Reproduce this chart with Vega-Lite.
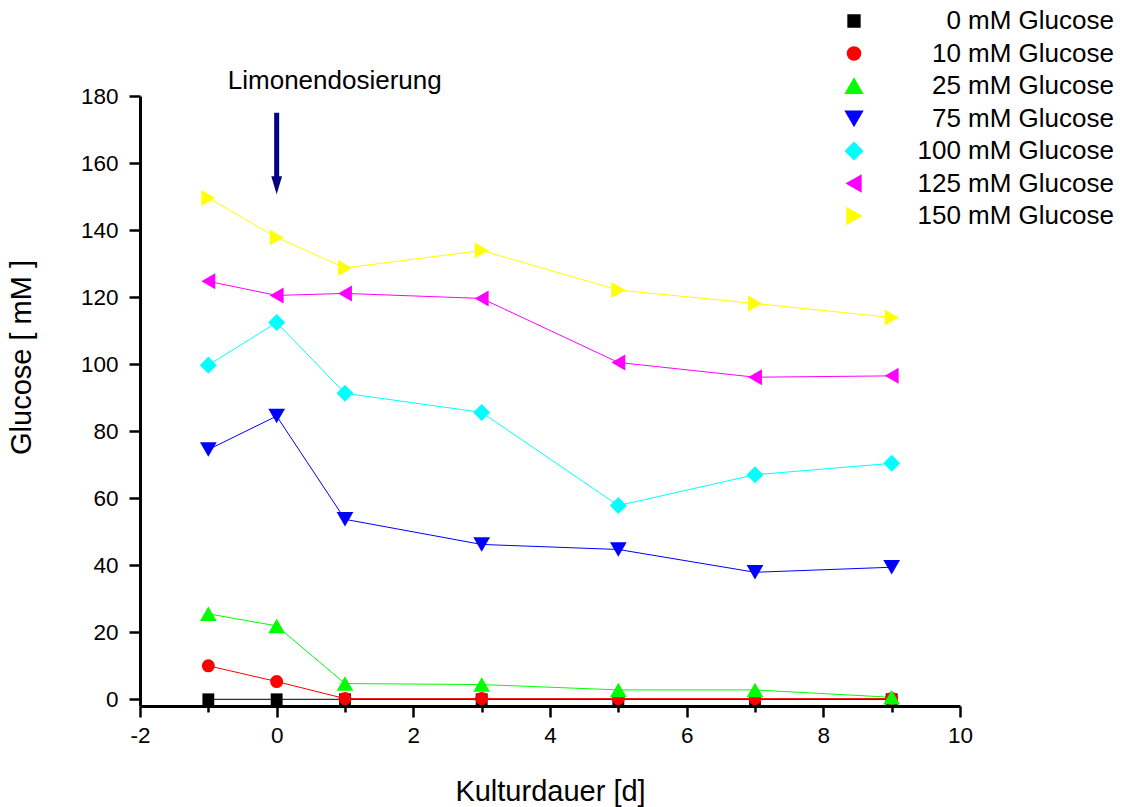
{
  "$schema": "https://vega.github.io/schema/vega-lite/v6.json",
  "width": 820,
  "height": 610,
  "autosize": {"type": "none"},
  "padding": {"left": 140, "top": 96, "right": 162, "bottom": 101},
  "background": "white",
  "config": {
    "font": "Liberation Sans",
    "view": {"stroke": null}
  },
  "datasets": {
    "glucose": [
      {"series": "0 mM Glucose", "day": -1, "glucose": 0},
      {"series": "0 mM Glucose", "day": 0, "glucose": 0},
      {"series": "0 mM Glucose", "day": 1, "glucose": 0},
      {"series": "0 mM Glucose", "day": 3, "glucose": 0},
      {"series": "0 mM Glucose", "day": 5, "glucose": 0},
      {"series": "0 mM Glucose", "day": 7, "glucose": 0},
      {"series": "0 mM Glucose", "day": 9, "glucose": 0},
      {"series": "10 mM Glucose", "day": -1, "glucose": 10.0},
      {"series": "10 mM Glucose", "day": 0, "glucose": 5.3},
      {"series": "10 mM Glucose", "day": 1, "glucose": 0.2},
      {"series": "10 mM Glucose", "day": 3, "glucose": 0.2},
      {"series": "10 mM Glucose", "day": 5, "glucose": 0.2},
      {"series": "10 mM Glucose", "day": 7, "glucose": 0.2},
      {"series": "10 mM Glucose", "day": 9, "glucose": 0.2},
      {"series": "25 mM Glucose", "day": -1, "glucose": 25.5},
      {"series": "25 mM Glucose", "day": 0, "glucose": 21.9},
      {"series": "25 mM Glucose", "day": 1, "glucose": 4.7},
      {"series": "25 mM Glucose", "day": 3, "glucose": 4.4},
      {"series": "25 mM Glucose", "day": 5, "glucose": 2.8},
      {"series": "25 mM Glucose", "day": 7, "glucose": 2.8},
      {"series": "25 mM Glucose", "day": 9, "glucose": 0.6},
      {"series": "75 mM Glucose", "day": -1, "glucose": 74.5},
      {"series": "75 mM Glucose", "day": 0, "glucose": 84.5},
      {"series": "75 mM Glucose", "day": 1, "glucose": 53.7},
      {"series": "75 mM Glucose", "day": 3, "glucose": 46.2},
      {"series": "75 mM Glucose", "day": 5, "glucose": 44.7},
      {"series": "75 mM Glucose", "day": 7, "glucose": 37.9},
      {"series": "75 mM Glucose", "day": 9, "glucose": 39.4},
      {"series": "100 mM Glucose", "day": -1, "glucose": 99.7},
      {"series": "100 mM Glucose", "day": 0, "glucose": 112.4},
      {"series": "100 mM Glucose", "day": 1, "glucose": 91.3},
      {"series": "100 mM Glucose", "day": 3, "glucose": 85.6},
      {"series": "100 mM Glucose", "day": 5, "glucose": 57.8},
      {"series": "100 mM Glucose", "day": 7, "glucose": 67.0},
      {"series": "100 mM Glucose", "day": 9, "glucose": 70.4},
      {"series": "125 mM Glucose", "day": -1, "glucose": 124.7},
      {"series": "125 mM Glucose", "day": 0, "glucose": 120.5},
      {"series": "125 mM Glucose", "day": 1, "glucose": 121.1},
      {"series": "125 mM Glucose", "day": 3, "glucose": 119.6},
      {"series": "125 mM Glucose", "day": 5, "glucose": 100.5},
      {"series": "125 mM Glucose", "day": 7, "glucose": 96.1},
      {"series": "125 mM Glucose", "day": 9, "glucose": 96.5},
      {"series": "150 mM Glucose", "day": -1, "glucose": 149.6},
      {"series": "150 mM Glucose", "day": 0, "glucose": 137.8},
      {"series": "150 mM Glucose", "day": 1, "glucose": 128.7},
      {"series": "150 mM Glucose", "day": 3, "glucose": 133.9},
      {"series": "150 mM Glucose", "day": 5, "glucose": 122.1},
      {"series": "150 mM Glucose", "day": 7, "glucose": 118.1},
      {"series": "150 mM Glucose", "day": 9, "glucose": 113.9}
    ]
  },
  "data": {"name": "glucose"},
  "layer": [
    {
      "mark": {"type": "line", "strokeWidth": 1},
      "encoding": {
        "x": {
          "field": "day",
          "type": "quantitative",
          "title": "Kulturdauer [d]",
          "scale": {"domain": [-2, 10], "nice": false, "zero": false},
          "axis": {
            "values": [-2, -1, 0, 1, 2, 3, 4, 5, 6, 7, 8, 9, 10],
            "labelExpr": "datum.value % 2 === 0 ? '' + datum.value : ''",
            "tickSize": {"condition": {"test": "datum.value % 2 !== 0", "value": 6}, "value": 11},
            "grid": false,
            "domainColor": "black",
            "domainWidth": 3,
            "tickColor": "black",
            "tickWidth": 2.5,
            "labelFont": "Liberation Sans",
            "labelFontSize": 22.5,
            "labelColor": "black",
            "labelPadding": 7,
            "labelOverlap": false,
            "labelFlush": false,
            "titleFont": "Liberation Sans",
            "titleFontSize": 29,
            "titleFontWeight": "normal",
            "titleColor": "black",
            "titlePadding": 31
          }
        },
        "y": {
          "field": "glucose",
          "type": "quantitative",
          "title": "Glucose [ mM ]",
          "scale": {"domain": [-2, 180], "nice": false, "zero": false},
          "axis": {
            "values": [0, 10, 20, 30, 40, 50, 60, 70, 80, 90, 100, 110, 120, 130, 140, 150, 160, 170, 180],
            "labelExpr": "datum.value % 20 === 0 ? '' + datum.value : ''",
            "tickSize": {"condition": {"test": "datum.value % 20 !== 0", "value": 6}, "value": 11},
            "grid": false,
            "domainColor": "black",
            "domainWidth": 3,
            "tickColor": "black",
            "tickWidth": 2.5,
            "labelFont": "Liberation Sans",
            "labelFontSize": 22.5,
            "labelColor": "black",
            "labelPadding": 11,
            "labelOverlap": false,
            "labelFlush": false,
            "titleFont": "Liberation Sans",
            "titleFontSize": 29,
            "titleFontWeight": "normal",
            "titleColor": "black",
            "titlePadding": 44,
            "titleY": 261
          }
        },
        "color": {
          "field": "series",
          "type": "nominal",
          "scale": {
            "domain": ["0 mM Glucose", "10 mM Glucose", "25 mM Glucose", "75 mM Glucose", "100 mM Glucose", "125 mM Glucose", "150 mM Glucose"],
            "range": ["#000000", "#ff0000", "#00ff00", "#0000ff", "#00ffff", "#ff00ff", "#ffff00"]
          },
          "legend": {
            "orient": "none", "legendX": 701, "legendY": -88, "title": null, "padding": 0,
            "labelFont": "Liberation Sans", "labelFontSize": 26, "labelColor": "black",
            "labelAlign": "right", "labelOffset": 247, "labelLimit": 400,
            "symbolSize": 256, "rowPadding": 6.5
          }
        }
      }
    },
    {
      "mark": {"type": "point", "filled": true, "opacity": 1, "strokeWidth": 0},
      "encoding": {
        "x": {"field": "day", "type": "quantitative"},
        "y": {"field": "glucose", "type": "quantitative"},
        "color": {
          "field": "series",
          "type": "nominal",
          "legend": {
            "orient": "none", "legendX": 701, "legendY": -88, "title": null, "padding": 0,
            "labelFont": "Liberation Sans", "labelFontSize": 26, "labelColor": "black",
            "labelAlign": "right", "labelOffset": 247, "labelLimit": 400,
            "symbolSize": 256, "rowPadding": 6.5
          }
        },
        "shape": {
          "field": "series",
          "type": "nominal",
          "scale": {
            "domain": ["0 mM Glucose", "10 mM Glucose", "25 mM Glucose", "75 mM Glucose", "100 mM Glucose", "125 mM Glucose", "150 mM Glucose"],
            "range": ["square", "circle", "triangle-up", "triangle-down", "diamond", "triangle-left", "triangle-right"]
          },
          "legend": {
            "orient": "none", "legendX": 701, "legendY": -88, "title": null, "padding": 0,
            "labelFont": "Liberation Sans", "labelFontSize": 26, "labelColor": "black",
            "labelAlign": "right", "labelOffset": 247, "labelLimit": 400,
            "symbolSize": 256, "rowPadding": 6.5
          }
        },
        "size": {
          "field": "series",
          "type": "nominal",
          "scale": {
            "type": "ordinal",
            "domain": ["0 mM Glucose", "10 mM Glucose", "25 mM Glucose", "75 mM Glucose", "100 mM Glucose", "125 mM Glucose", "150 mM Glucose"],
            "range": [140, 170, 280, 280, 290, 256, 256]
          },
          "legend": null
        }
      }
    },
    {
      "data": {"values": [{}]},
      "mark": {"type": "rule", "color": "#000080", "strokeWidth": 5},
      "encoding": {
        "x": {"datum": 0, "type": "quantitative"},
        "y": {"datum": 175, "type": "quantitative"},
        "y2": {"datum": 155}
      }
    },
    {
      "data": {"values": [{}]},
      "mark": {"type": "point", "filled": true, "opacity": 1, "strokeWidth": 0, "color": "#000080", "shape": "M-0.6,-1L0.6,-1L0,1Z", "size": 324},
      "encoding": {
        "x": {"datum": 0, "type": "quantitative"},
        "y": {"datum": 153.4, "type": "quantitative"}
      }
    },
    {
      "data": {"values": [{}]},
      "mark": {"type": "text", "text": "Limonendosierung", "font": "Liberation Sans", "fontSize": 26, "align": "center", "baseline": "middle", "color": "black"},
      "encoding": {
        "x": {"datum": 0.85, "type": "quantitative"},
        "y": {"datum": 184.5, "type": "quantitative"}
      }
    }
  ]
}
